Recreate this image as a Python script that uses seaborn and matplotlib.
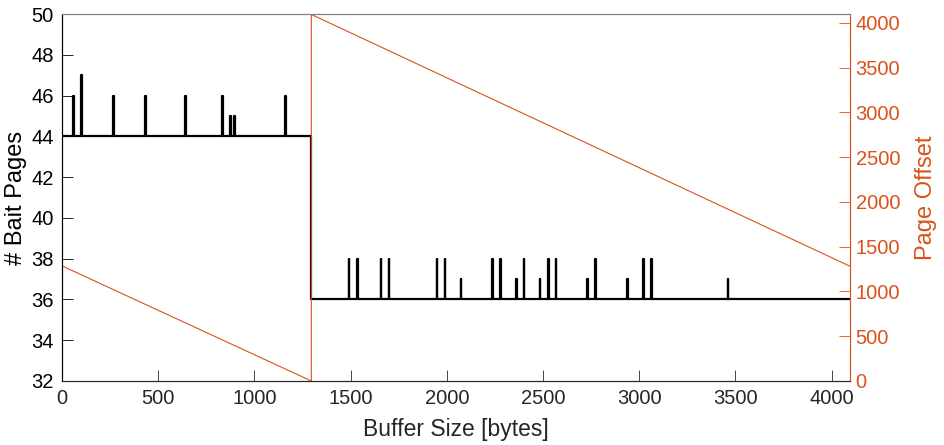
import matplotlib
matplotlib.use("Agg")
import matplotlib.pyplot as plt
import seaborn as sns
import pandas as pd

# step in bait page count where the page offset wraps around
step_x = 1296
base_left = 44
base_right = 36
x_max = 4096

# narrow spikes above the baseline: position (bytes) and height (# bait pages)
spike_x = [59, 100, 266, 433, 639, 831, 872, 893, 1160,
           1490, 1532, 1656, 1698, 1947, 1989, 2072, 2236, 2276, 2359,
           2400, 2483, 2525, 2566, 2729, 2773, 2939, 3022, 3063, 3460]
spike_y = [46, 47, 46, 46, 46, 46, 45, 45, 46,
           38, 38, 38, 38, 38, 38, 37, 38, 38, 37,
           38, 37, 38, 38, 37, 38, 37, 38, 38, 37]

# page offset sawtooth, read at its corners
offset_x = [0, 1296, 1296, 4096]
offset_y = [1286, 0, 4095, 1282]

spike_w = 4

# build the bait page trace from the baseline + spikes
bx, by = [0], [base_left]
for sx, sy in zip(spike_x, spike_y):
    base = base_left if sx < step_x else base_right
    if sx > step_x and bx[-1] < step_x:
        bx += [step_x, step_x]
        by += [base_left, base_right]
    bx += [sx, sx, sx + spike_w, sx + spike_w]
    by += [base, sy, sy, base]
bx.append(x_max)
by.append(base_right)
bait = pd.DataFrame({"size": bx, "pages": by})
offs = pd.DataFrame({"size": offset_x, "offset": offset_y})

sns.set_style("ticks")
plt.rcParams["font.family"] = ["Liberation Sans", "DejaVu Sans"]

orange = "#D95319"
dark = "#262626"

fig = plt.figure(figsize=(9.44, 4.45), dpi=100)
ax = fig.add_axes([62 / 944, 1 - 381 / 445, (850 - 62) / 944, (381 - 14) / 445])
ax2 = ax.twinx()

sns.lineplot(data=bait, x="size", y="pages", ax=ax, color="black", lw=1.6,
             sort=False, estimator=None)
sns.lineplot(data=offs, x="size", y="offset", ax=ax2, color=orange, lw=0.8,
             sort=False, estimator=None)

ax.set_xlim(0, x_max)
ax.set_ylim(32, 50)
ax.set_yticks(range(32, 51, 2))
ax.set_xticks(range(0, 4001, 500))
ax2.set_ylim(0, 4100)
ax2.set_yticks(range(0, 4001, 500))

ax.set_xlabel("Buffer Size [bytes]", fontsize=16.5, color=dark, labelpad=7)
ax.set_ylabel("# Bait Pages", fontsize=17, color="black", labelpad=3)
ax2.set_ylabel("Page Offset", fontsize=17, color=orange, labelpad=11)

ax.tick_params(axis="x", direction="in", length=8, width=0.6, colors=dark,
               labelsize=14.5, pad=6)
ax.tick_params(axis="y", direction="in", length=8, width=0.6, colors="black",
               labelsize=14.5, pad=6)
ax2.tick_params(axis="y", direction="in", length=8, width=0.6, colors=orange,
                labelsize=14.5, pad=4)

for a in (ax, ax2):
    a.spines["top"].set_visible(True)
    a.spines["top"].set_color("#808080")
    a.spines["bottom"].set_color(dark)
    a.spines["left"].set_color("black")
    a.spines["right"].set_color(orange)
    for s in a.spines.values():
        s.set_linewidth(0.8)

fig.savefig("out.png", dpi=100)
